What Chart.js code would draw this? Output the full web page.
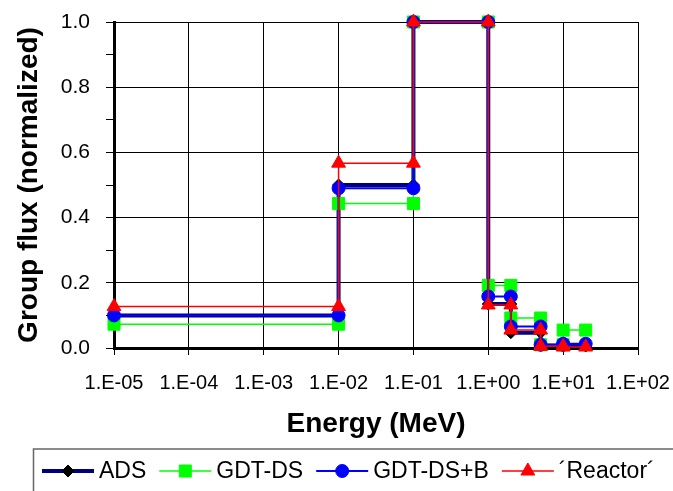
<!DOCTYPE html>
<html>
<head>
<meta charset="utf-8">
<script src="https://cdn.jsdelivr.net/npm/chart.js@4.4.1/dist/chart.umd.min.js"></script>
<style>
  html, body { margin: 0; padding: 0; background: #fff; }
  #wrap { width: 673px; height: 491px; }
</style>
</head>
<body>
<div id="wrap"><canvas id="fluxChart" width="673" height="491"></canvas></div>
<script>
// energy group boundaries (MeV)
const groupEdges = [1e-5, 1e-2, 1e-1, 1, 2, 5, 10, 20];

// normalized group flux, one value per group
const adsFlux      = [0.100, 0.500, 1.0, 0.135, 0.047, 0.008, 0.006];
const gdtDsFlux    = [0.073, 0.443, 1.0, 0.192, 0.092, 0.010, 0.055];
const gdtDsBFlux   = [0.100, 0.490, 1.0, 0.158, 0.066, 0.010, 0.013];
const reactorFlux  = [0.127, 0.567, 1.0, 0.132, 0.055, 0.005, 0.003];

const seriesNames = ["ADS", "GDT-DS", "GDT-DS+B", "\u00b4Reactor\u00b4"];
const xTickExponents = [-5, -4, -3, -2, -1, 0, 1, 2];
const yTickValues = [0, 0.1, 0.2, 0.3, 0.4, 0.5, 0.6, 0.7, 0.8, 0.9, 1.0];

Chart.defaults.font.family = "'Liberation Sans', Arial, sans-serif";
Chart.defaults.color = "#000";

// each group is drawn as a flat step with a marker at both ends
function toSteps(values) {
  const pts = [];
  values.forEach(function (v, i) {
    pts.push({ x: groupEdges[i], y: v });
    pts.push({ x: groupEdges[i + 1], y: v });
  });
  return pts;
}

function expLabel(v) {
  const e = Math.round(Math.log10(v));
  const sign = e < 0 ? "-" : "+";
  return "1.E" + sign + String(Math.abs(e)).padStart(2, "0");
}

function makeSet(label, values, color, width, style, radius, fill, order) {
  return {
    label: label,
    data: toSteps(values),
    borderColor: color,
    borderWidth: width,
    pointStyle: style,
    pointRadius: radius,
    pointBackgroundColor: fill,
    pointBorderColor: fill,
    pointBorderWidth: 1,
    tension: 0,
    clip: false,
    order: order
  };
}

const legendBox = {
  id: "legendBox",
  afterDraw(chart) {
    const ctx = chart.ctx;
    ctx.save();
    ctx.strokeStyle = "#666";
    ctx.lineWidth = 1.5;
    ctx.strokeRect(33.5, 449, 700, 100);

    ctx.font = "23px 'Liberation Sans', Arial, sans-serif";
    ctx.textBaseline = "middle";
    ctx.textAlign = "left";
    const cy = 471;
    let x = 42;
    chart.data.datasets.forEach(function (ds) {
      ctx.strokeStyle = ds.borderColor;
      ctx.lineWidth = ds.borderWidth;
      ctx.beginPath();
      ctx.moveTo(x, cy);
      ctx.lineTo(x + 52, cy);
      ctx.stroke();
      ctx.fillStyle = ds.pointBackgroundColor;
      ctx.strokeStyle = ds.pointBorderColor;
      ctx.lineWidth = 1;
      Chart.helpers.drawPoint(ctx, {
        pointStyle: ds.pointStyle, radius: ds.pointRadius, rotation: 0, borderWidth: 1
      }, x + 26, cy);
      ctx.fillStyle = "#000";
      ctx.fillText(ds.label, x + 57, cy + 1);
      x += 57 + ctx.measureText(ds.label).width + 13;
    });
    ctx.restore();
  }
};

const data = {
  datasets: [
    makeSet(seriesNames[0], adsFlux, "#000080", 4, "rectRot", 6, "#000000", 3),
    makeSet(seriesNames[1], gdtDsFlux, "#00ff00", 1.5, "rect", 8.5, "#00ff00", 2),
    makeSet(seriesNames[2], gdtDsBFlux, "#0000ff", 2, "circle", 6.5, "#0000ff", 1),
    makeSet(seriesNames[3], reactorFlux, "#ff0000", 1.5, "triangle", 8, "#ff0000", 0)
  ]
};

const config = {
  type: "line",
  data: data,
  options: {
    responsive: false,
    animation: false,
    devicePixelRatio: 1,
    layout: { padding: { top: 22, right: 35, bottom: 50, left: 0 } },
    plugins: {
      legend: { display: false },
      tooltip: { enabled: false }
    },
    scales: {
      x: {
        type: "logarithmic",
        min: 1e-5,
        max: 100,
        afterBuildTicks: function (s) {
          s.ticks = xTickExponents.map(function (e) { return { value: parseFloat("1e" + e) }; });
        },
        afterFit: function (s) {
          s.height = 93;
          s.paddingLeft = 0;
          s.paddingRight = 0;
        },
        ticks: {
          autoSkip: false,
          maxRotation: 0,
          font: { size: 20 },
          color: "#000",
          padding: 16,
          callback: function (v) { return expLabel(v); }
        },
        grid: { color: "#000", lineWidth: 1, tickLength: 7, tickColor: "#000" },
        border: { color: "#000", width: 3 },
        title: {
          display: true,
          text: "Energy (MeV)",
          color: "#000",
          font: { size: 28, weight: "bold" },
          padding: 0
        }
      },
      y: {
        min: 0,
        max: 1,
        afterBuildTicks: function (s) {
          s.ticks = yTickValues.map(function (v) { return { value: v }; });
        },
        afterFit: function (s) {
          s.width = 114;
          s.paddingTop = 0;
          s.paddingBottom = 0;
        },
        ticks: {
          autoSkip: false,
          font: { size: 21 },
          color: "#000",
          padding: 16,
          callback: function (v, i) { return i % 2 === 0 ? v.toFixed(1) : ""; }
        },
        grid: {
          color: function (c) { return c.index % 2 === 0 ? "#000" : "rgba(0,0,0,0)"; },
          lineWidth: 1,
          tickLength: 8,
          tickColor: "#000"
        },
        border: { color: "#000", width: 3 },
        title: {
          display: true,
          text: "Group flux (normalized)",
          color: "#000",
          font: { size: 28, weight: "bold" },
          padding: { top: 12, bottom: 0 }
        }
      }
    }
  },
  plugins: [legendBox]
};

new Chart(document.getElementById("fluxChart"), config);
</script>
</body>
</html>
